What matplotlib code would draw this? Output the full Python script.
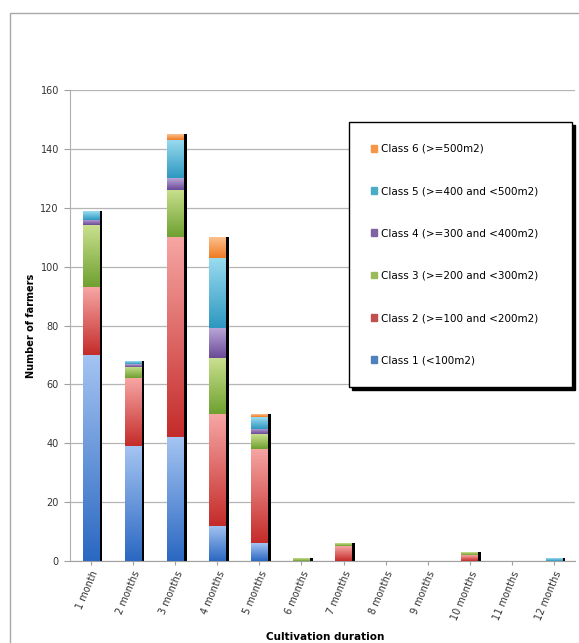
import numpy as np
import matplotlib
matplotlib.use("Agg")
import matplotlib.pyplot as plt
import matplotlib.patches as mpatches
from matplotlib.colors import to_rgb

categories = ["1 month", "2 months", "3 months", "4 months", "5 months", "6 months",
              "7 months", "8 months", "9 months", "10 months", "11 months", "12 months"]
class_labels = ["Class 1 (<100m2)", "Class 2 (>=100 and <200m2)", "Class 3 (>=200 and <300m2)",
                "Class 4 (>=300 and <400m2)", "Class 5 (>=400 and <500m2)", "Class 6 (>=500m2)"]
class1 = [70, 39, 42, 12, 6, 0, 0, 0, 0, 0, 0, 0]
class2 = [23, 23, 68, 38, 32, 0, 5, 0, 0, 2, 0, 0]
class3 = [21, 4, 16, 19, 5, 1, 1, 0, 0, 1, 0, 0]
class4 = [2, 1, 4, 10, 2, 0, 0, 0, 0, 0, 0, 0]
class5 = [3, 1, 13, 24, 4, 0, 0, 0, 0, 0, 0, 1]
class6 = [0, 0, 2, 7, 1, 0, 0, 0, 0, 0, 0, 0]
series = [class1, class2, class3, class4, class5, class6]
yticks = [0, 20, 40, 60, 80, 100, 120, 140, 160]

# style: (top colour, bottom colour) for gradient, plus legend colour
grad = [("#a4c4f2", "#2b68c2"),
        ("#f6a6a4", "#c42c2a"),
        ("#c9e08e", "#6fa030"),
        ("#b9a6d6", "#6a4a98"),
        ("#9adcf0", "#2e98c0"),
        ("#fbc08e", "#f07a22")]
base = ["#4f81bd", "#c0504d", "#9bbb59", "#8064a2", "#4bacc6", "#f79646"]

fig = plt.figure(figsize=(5.79, 6.43), dpi=100)
ax = fig.add_axes([70/579, 1-561/643, 505/579, 471/643])

x = np.arange(len(categories))
width = 0.40
totals = np.sum(np.array(series, dtype=float), axis=0)

# shadow bars
ax.bar(x + 0.07, totals, width, color="black", zorder=2, linewidth=0)

bottom = np.zeros(len(categories))
handles = []
for i, vals in enumerate(series):
    vals = np.array(vals, dtype=float)
    bars = ax.bar(x, vals, width, bottom=bottom, color=base[i], linewidth=0,
                  zorder=3, label=class_labels[i])
    top_c = np.array(to_rgb(grad[i][0]))
    bot_c = np.array(to_rgb(grad[i][1]))
    t = np.linspace(0, 1, 64)[:, None]
    img = (bot_c[None, :] * (1 - t) + top_c[None, :] * t)[:, None, :]
    for p in bars:
        h = p.get_height()
        if h <= 0:
            continue
        x0, y0, w = p.get_x(), p.get_y(), p.get_width()
        im = ax.imshow(img, extent=[x0, x0 + w, y0, y0 + h], origin="lower",
                       aspect="auto", zorder=3.5, interpolation="bilinear")
        im.set_clip_path(p)
    handles.append(mpatches.Patch(color=base[i], label=class_labels[i]))
    bottom += vals

ax.set_xlim(-0.5, len(categories) - 0.5)
ax.set_ylim(0, 160)
ax.set_yticks(yticks)
ax.set_yticklabels([str(v) for v in yticks], fontsize=7, color="#333333")
ax.set_xticks(x)
ax.set_xticklabels(categories, rotation=67, ha="right", va="top",
                   rotation_mode="anchor", fontsize=7, color="#333333")
ax.tick_params(axis="x", length=3, color="#a0a0a0", pad=3)
ax.tick_params(axis="y", length=4, color="#a0a0a0", pad=4)
ax.yaxis.grid(True, color="#b5b5b5", linewidth=0.9, zorder=0)
ax.set_axisbelow(True)
for s in ["top", "right"]:
    ax.spines[s].set_visible(False)
ax.spines["left"].set_color("#b0b0b0")
ax.spines["bottom"].set_color("#a0a0a0")

ax.set_ylabel("Number of farmers", fontsize=7, fontweight="bold", labelpad=3)
fig.text(325/579, 1-637/643, "Cultivation duration", fontsize=7.5, fontweight="bold",
         ha="center", va="center")

leg = ax.legend(handles=handles[::-1], loc="upper left",
                bbox_to_anchor=(349/579, 1-387/643, 223/579, 265/643),
                bbox_transform=fig.transFigure, mode="expand",
                fontsize=7.5, frameon=True, fancybox=False, framealpha=1,
                edgecolor="black", handlelength=0.6, handleheight=0.6,
                handletextpad=0.4, labelspacing=3.1, borderpad=2.1,
                borderaxespad=0, shadow={"color": "black", "alpha": 1})
leg.get_frame().set_linewidth(1.0)
leg.set_zorder(10)

# outer chart frame
fig.patches.append(mpatches.Rectangle((10/579, -0.02), 1.0, 1-13/643+0.02,
                                      transform=fig.transFigure, fill=False,
                                      edgecolor="#a8a8a8", linewidth=1.0))

fig.savefig("out.png", dpi=100)
